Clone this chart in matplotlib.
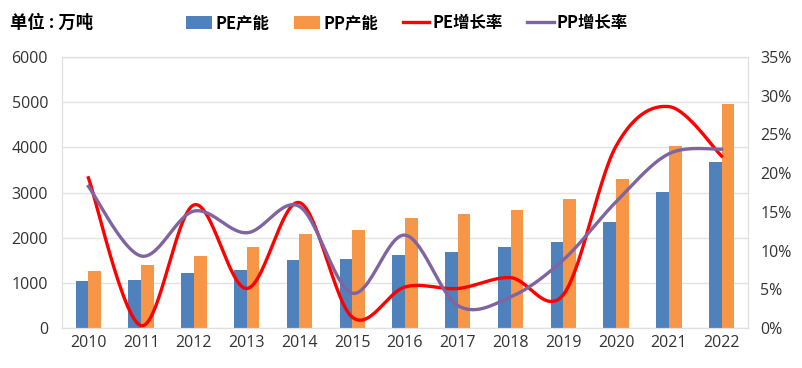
import numpy as np
import matplotlib
matplotlib.use("Agg")
import matplotlib.pyplot as plt
from matplotlib.ticker import FuncFormatter, MultipleLocator

plt.rcParams['font.family'] = ['Noto Sans CJK SC', 'DejaVu Sans']

years = ['2010', '2011', '2012', '2013', '2014', '2015', '2016',
         '2017', '2018', '2019', '2020', '2021', '2022']
pe_cap = [1040, 1062, 1224, 1283, 1504, 1526, 1615, 1688, 1799, 1895, 2338, 3016, 3680]
pp_cap = [1268, 1394, 1593, 1799, 2080, 2168, 2434, 2515, 2611, 2854, 3303, 4027, 4971]
pe_growth = [19.4, 0.3, 15.9, 5.1, 16.2, 1.4, 5.3, 5.1, 6.5, 4.3, 23.5, 28.6, 22.2]
pp_growth = [18.3, 9.3, 15.1, 12.3, 15.7, 4.5, 12.0, 2.9, 4.0, 8.8, 16.3, 22.5, 23.1]


def smooth(x, y, n=30):
    # Excel-style smoothed line: Catmull-Rom bezier through the points
    x = np.asarray(x, float)
    y = np.asarray(y, float)
    px = np.concatenate([[x[0]], x, [x[-1]]])
    py = np.concatenate([[y[0]], y, [y[-1]]])
    xs, ys = [], []
    t = np.linspace(0, 1, n)
    for i in range(1, len(px) - 2):
        p0 = np.array([px[i], py[i]])
        p3 = np.array([px[i + 1], py[i + 1]])
        c1 = p0 + (np.array([px[i + 1], py[i + 1]]) - np.array([px[i - 1], py[i - 1]])) / 6
        c2 = p3 - (np.array([px[i + 2], py[i + 2]]) - np.array([px[i], py[i]])) / 6
        b = ((1 - t) ** 3)[:, None] * p0 + (3 * (1 - t) ** 2 * t)[:, None] * c1 \
            + (3 * (1 - t) * t ** 2)[:, None] * c2 + (t ** 3)[:, None] * p3
        xs.extend(b[:, 0])
        ys.extend(b[:, 1])
    return np.array(xs), np.array(ys)


tick_font = ['Open Sans', 'Noto Sans CJK SC']

fig = plt.figure(figsize=(8.03, 3.68), dpi=100)
ax = fig.add_axes([0.0772, 0.1087, 0.8543, 0.7363])
x = np.arange(len(years))
w = 0.24

b1 = ax.bar(x - w / 2, pe_cap, w, color='#4f81bd', label='PE产能', zorder=2)
b2 = ax.bar(x + w / 2, pp_cap, w, color='#f79646', label='PP产能', zorder=2)
ax.set_ylim(0, 6000)
ax.set_xlim(-0.5, len(years) - 0.5)
ax.yaxis.set_major_locator(MultipleLocator(1000))
ax.grid(axis='y', color='#e3e3e3', linewidth=1, zorder=0)
ax.set_axisbelow(True)
ax.set_xticks(x)
ax.set_xticklabels(years)
for s in ax.spines.values():
    s.set_color('#e0e0e0')
ax.tick_params(axis='y', length=0, labelsize=11.5, colors='#333333', pad=10)
ax.tick_params(axis='x', length=0, labelsize=11.5, colors='#333333', pad=5)
for lab in ax.get_xticklabels() + ax.get_yticklabels():
    lab.set_family(tick_font)

ax2 = ax.twinx()
sx, sy = smooth(x, pe_growth)
l1, = ax2.plot(sx, sy, color='#ff0000', linewidth=2.4, label='PE增长率', zorder=3)
sx, sy = smooth(x, pp_growth)
l2, = ax2.plot(sx, sy, color='#8064a2', linewidth=2.4, label='PP增长率', zorder=3)
ax2.set_ylim(0, 35)
ax2.yaxis.set_major_locator(MultipleLocator(5))
ax2.yaxis.set_major_formatter(FuncFormatter(lambda v, p: f'{v:.0f}%'))
for s in ax2.spines.values():
    s.set_color('#e0e0e0')
ax2.tick_params(length=0, labelsize=11.5, colors='#333333', pad=9)
for lab in ax2.get_yticklabels():
    lab.set_family(tick_font)

fig.text(0.012, 0.937, '单位 : 万吨', fontsize=12.5, fontweight='bold', va='center', ha='left')
fig.legend(handles=[b1, b2, l1, l2], loc='center', bbox_to_anchor=(0.507, 0.937), ncol=4,
           frameon=False, prop={'size': 11.8, 'weight': 'bold'}, handlelength=1.6,
           handleheight=0.8, handletextpad=0.2, columnspacing=1.5)

fig.savefig('out.png', dpi=100)
